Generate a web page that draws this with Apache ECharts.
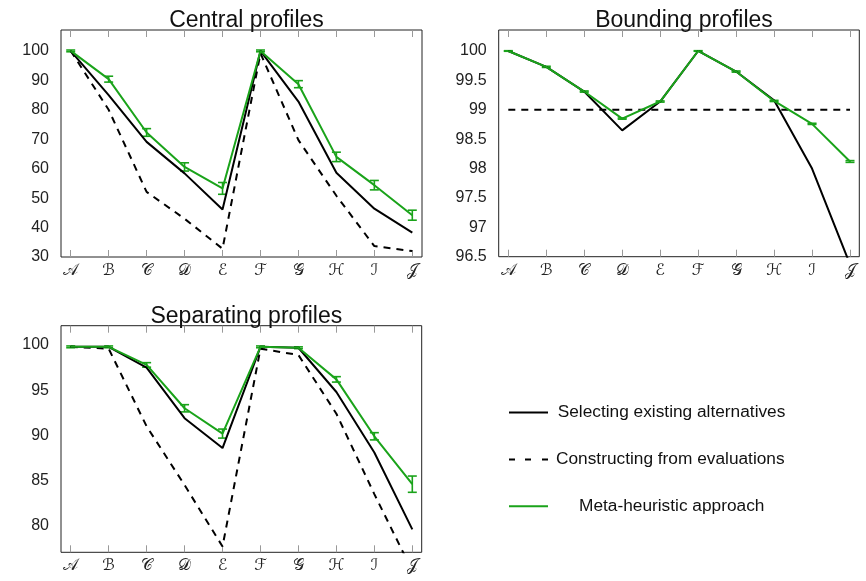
<!DOCTYPE html>
<html>
<head>
<meta charset="utf-8">
<script src="https://cdn.jsdelivr.net/npm/echarts@6/dist/echarts.min.js"></script>
<style>
  html, body { margin: 0; padding: 0; background: #fff; }
  #chart { width: 866px; height: 581px; }
</style>
</head>
<body>
<div id="chart"></div>
<script>
// categories (script capitals)
const categories = ['𝒜', 'ℬ', '𝒞', '𝒟', 'ℰ', 'ℱ', '𝒢', 'ℋ', 'ℐ', '𝒥'];

const seriesNames = ['Selecting existing alternatives', 'Constructing from evaluations', 'Meta-heuristic approach'];

// Central profiles
const centralSelecting = [100, 85, 69.1, 58.4, 46.1, 100, 82.8, 58.6, 46.4, 38.3];
const centralConstructing = [100, 80, 52.1, 43, 32.8, 99.2, 69.7, 50.8, 33.7, 32.0];
const centralMeta = [100, 90.4, 72.3, 60.6, 53.3, 100, 88.7, 64, 54.4, 44.2];
const centralErr = [0.3, 1.0, 1.3, 1.4, 2.0, 0.3, 1.2, 1.6, 1.6, 1.7];

// Bounding profiles
const boundingSelecting = [100, 99.73, 99.31, 98.65, 99.14, 100, 99.65, 99.16, 98.0, 96.37];
const boundingConstructing = [99, 99, 99, 99, 99, 99, 99, 99, 99, 99];
const boundingMeta = [100, 99.73, 99.31, 98.85, 99.14, 100, 99.65, 99.15, 98.76, 98.12];
const boundingErr = [0.005, 0.01, 0.01, 0.01, 0.01, 0.005, 0.01, 0.01, 0.01, 0.015];

// Separating profiles
const separatingSelecting = [99.8, 99.8, 97.5, 91.9, 88.6, 99.8, 99.7, 94.8, 88.1, 79.6];
const separatingConstructing = [99.8, 99.6, 91.0, 84.5, 77.7, 99.6, 98.9, 92.4, 83.5, 75.0];
const separatingMeta = [99.8, 99.8, 97.8, 93.0, 90.2, 99.8, 99.7, 96.2, 89.9, 84.6];
const separatingErr = [0.1, 0.1, 0.25, 0.4, 0.5, 0.1, 0.1, 0.3, 0.4, 0.9];

const GREEN = '#1aa31a';
const TICK = '#999999';
const FONT = 'Liberation Sans';

let grids = [], xAxes = [], yAxes = [], series = [], titles = [];

function addPanel(p) {
    // frame grid (only draws the box)
    let fi = grids.length;
    grids.push({
        left: p.frame[0], top: p.frame[1],
        width: p.frame[2] - p.frame[0], height: p.frame[3] - p.frame[1],
        show: true, borderColor: '#222', borderWidth: 1, backgroundColor: 'transparent'
    });
    xAxes.push({ gridIndex: fi, type: 'value', show: false });
    yAxes.push({ gridIndex: fi, type: 'value', show: false });

    // data grid, from A to J
    let di = grids.length;
    grids.push({
        left: p.ax0, top: p.frame[1],
        width: p.ax1 - p.ax0, height: p.frame[3] - p.frame[1]
    });
    let xi = xAxes.length;
    xAxes.push({
        gridIndex: di, type: 'category', data: categories, boundaryGap: false, position: 'bottom',
        axisLine: { show: false },
        axisTick: { inside: true, length: 7, lineStyle: { color: TICK } },
        axisLabel: { margin: 6, fontSize: 16, color: '#222', fontFamily: 'DejaVu Sans, DejaVu Serif' },
        splitLine: { show: false }
    });
    xAxes.push({
        gridIndex: di, type: 'category', data: categories, boundaryGap: false, position: 'top',
        axisLine: { show: false },
        axisTick: { inside: true, length: 7, lineStyle: { color: TICK } },
        axisLabel: { show: false }, splitLine: { show: false }
    });
    let yi = yAxes.length;
    let yBase = {
        gridIndex: di, type: 'value', min: p.yMin, max: p.yMax,
        axisLine: { show: false },
        axisTick: { inside: true, length: 7, lineStyle: { color: TICK } },
        splitLine: { show: false }
    };
    if (p.interval) yBase.interval = p.interval;
    else { yBase.minInterval = p.step; yBase.maxInterval = p.step; }
    yAxes.push(Object.assign({}, yBase, {
        position: 'left', offset: p.ax0 - p.frame[0],
        axisLabel: {
            margin: 12, fontSize: 16, color: '#222', fontFamily: FONT,
            showMinLabel: p.showMin, showMaxLabel: false
        }
    }));
    yAxes.push(Object.assign({}, yBase, {
        position: 'right', offset: p.frame[2] - p.ax1,
        axisLabel: { show: false }
    }));

    titles.push({
        text: p.title, left: (p.frame[0] + p.frame[2]) / 2, textAlign: 'center', top: p.frame[1] - 26,
        textStyle: { fontFamily: FONT, fontSize: 23, fontWeight: 'normal', color: '#111' }
    });

    series.push({
        name: seriesNames[0], type: 'line', xAxisIndex: xi, yAxisIndex: yi,
        data: p.sel, symbol: 'none', lineStyle: { color: '#000', width: 2 }, itemStyle: { color: '#000' }
    });
    series.push({
        name: seriesNames[1], type: 'line', xAxisIndex: xi, yAxisIndex: yi,
        data: p.cons, symbol: 'none', lineStyle: { color: '#000', width: 2, type: [7, 6] }, itemStyle: { color: '#000' }
    });
    series.push({
        name: seriesNames[2], type: 'line', xAxisIndex: xi, yAxisIndex: yi,
        data: p.meta, symbol: 'none', lineStyle: { color: GREEN, width: 2 }, itemStyle: { color: GREEN }
    });
    // error bars on the meta-heuristic series
    series.push({
        type: 'custom', xAxisIndex: xi, yAxisIndex: yi, z: 3,
        data: p.meta.map((v, i) => [i, v - p.err[i], v + p.err[i]]),
        encode: { x: 0, y: [1, 2] },
        renderItem: function (params, api) {
            let lo = api.coord([api.value(0), api.value(1)]);
            let hi = api.coord([api.value(0), api.value(2)]);
            let w = 4.5;
            let st = { stroke: GREEN, lineWidth: 1.6 };
            return {
                type: 'group',
                children: [
                    { type: 'line', shape: { x1: lo[0], y1: lo[1], x2: hi[0], y2: hi[1] }, style: st },
                    { type: 'line', shape: { x1: lo[0] - w, y1: lo[1], x2: lo[0] + w, y2: lo[1] }, style: st },
                    { type: 'line', shape: { x1: hi[0] - w, y1: hi[1], x2: hi[0] + w, y2: hi[1] }, style: st }
                ]
            };
        }
    });
}

addPanel({
    title: 'Central profiles', frame: [61, 30, 422, 257], ax0: 70.7, ax1: 412.3,
    yMin: 30, yMax: 107.1, interval: 10, showMin: true,
    sel: centralSelecting, cons: centralConstructing, meta: centralMeta, err: centralErr
});
addPanel({
    title: 'Bounding profiles', frame: [498.7, 30, 859.3, 256.7], ax0: 508.3, ax1: 850,
    yMin: 96.5, yMax: 100.357, interval: 0.5, showMin: true,
    sel: boundingSelecting, cons: boundingConstructing, meta: boundingMeta, err: boundingErr
});
addPanel({
    title: 'Separating profiles', frame: [61, 325.7, 421.7, 552.3], ax0: 70.7, ax1: 412.3,
    yMin: 77.06, yMax: 102.14, step: 5, showMin: false,
    sel: separatingSelecting, cons: separatingConstructing, meta: separatingMeta, err: separatingErr
});

const solidIcon = 'path://M0,0H39V2H0Z';
const dashIcon = 'path://M0,0H6V2H0Z M16,0H22V2H16Z M33,0H39V2H33Z';

function legendFor(name, icon, center, pad) {
    return {
        data: [{ name: name, icon: icon }], left: 509, top: center - 8, orient: 'vertical',
        itemWidth: 39, itemHeight: 2, padding: 0,
        textStyle: { fontFamily: FONT, fontSize: 17.3, color: '#111', padding: [0, 0, 0, pad] }
    };
}

let chart = echarts.init(document.getElementById('chart'));
chart.setOption({
    animation: false,
    title: titles,
    legend: [
        legendFor(seriesNames[0], solidIcon, 412, 4.7),
        legendFor(seriesNames[1], dashIcon, 459, 3),
        legendFor(seriesNames[2], solidIcon, 505.7, 26)
    ],
    grid: grids,
    xAxis: xAxes,
    yAxis: yAxes,
    series: series
});
</script>
</body>
</html>
